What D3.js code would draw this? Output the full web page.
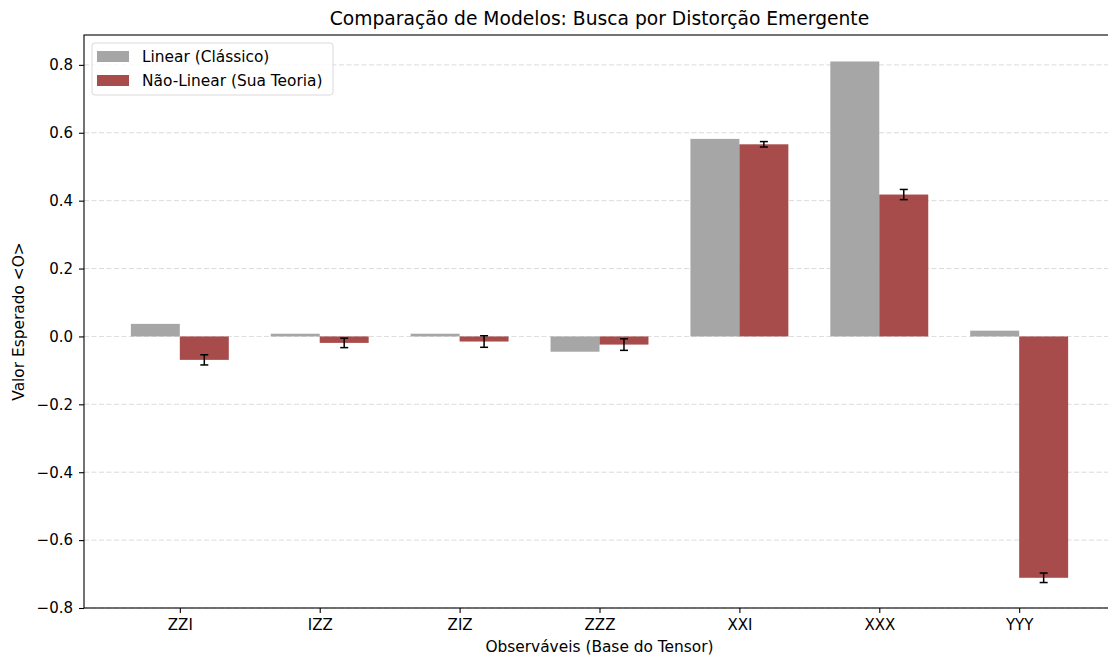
<!DOCTYPE html>
<html>
<head>
<meta charset="utf-8">
<script src="https://cdn.jsdelivr.net/npm/d3@7"></script>
<style>
  body { margin: 0; background: #fff; }
  svg { display: block; font-family: "DejaVu Sans", sans-serif; }
</style>
</head>
<body>
<svg id="chart"></svg>
<script>
const width = 1108;
const height = 657;

// Data
const categories = ["ZZI", "IZZ", "ZIZ", "ZZZ", "XXI", "XXX", "YYY"];
const linearValues = [0.037, 0.008, 0.008, -0.045, 0.582, 0.810, 0.017];
const nonlinearValues = [-0.069, -0.019, -0.015, -0.024, 0.566, 0.418, -0.711];
const nonlinearErrors = [0.015, 0.014, 0.017, 0.017, 0.008, 0.015, 0.014];
const yTicks = [-0.8, -0.6, -0.4, -0.2, 0.0, 0.2, 0.4, 0.6, 0.8];
const seriesNames = ["Linear (Clássico)", "Não-Linear (Sua Teoria)"];

const margin = { left: 84, top: 35, bottom: 49 };
const plotRight = 1115; // right spine falls just outside the picture
const barWidth = 0.35;

const x = d3.scaleLinear()
    .domain([-0.685, categories.length - 1 + 0.685])
    .range([margin.left, plotRight]);

const y = d3.scaleLinear()
    .domain([-0.8, 0.888])
    .range([height - margin.bottom, margin.top]);

const svg = d3.select("#chart").attr("width", width).attr("height", height);

// grid
svg.append("g")
    .selectAll("line")
    .data(yTicks)
    .join("line")
    .attr("x1", margin.left)
    .attr("x2", plotRight)
    .attr("y1", d => y(d))
    .attr("y2", d => y(d))
    .attr("stroke", "#b0b0b0")
    .attr("stroke-opacity", 0.45)
    .attr("stroke-width", 1)
    .attr("stroke-dasharray", "5,2.5");

// bars
const xw = x(barWidth) - x(0);

svg.append("g")
    .selectAll("rect")
    .data(linearValues)
    .join("rect")
    .attr("x", (d, i) => x(i - barWidth))
    .attr("width", xw)
    .attr("y", d => y(Math.max(0, d)))
    .attr("height", d => Math.abs(y(d) - y(0)))
    .attr("fill", "#a6a6a6");

svg.append("g")
    .selectAll("rect")
    .data(nonlinearValues)
    .join("rect")
    .attr("x", (d, i) => x(i))
    .attr("width", xw)
    .attr("y", d => y(Math.max(0, d)))
    .attr("height", d => Math.abs(y(d) - y(0)))
    .attr("fill", "#a84b4b");

// error bars
const err = svg.append("g")
    .selectAll("g")
    .data(nonlinearValues)
    .join("g")
    .attr("stroke", "#000")
    .attr("stroke-width", 1.5);

err.append("line")
    .attr("x1", (d, i) => x(i + barWidth / 2))
    .attr("x2", (d, i) => x(i + barWidth / 2))
    .attr("y1", (d, i) => y(d - nonlinearErrors[i]))
    .attr("y2", (d, i) => y(d + nonlinearErrors[i]));

[-1, 1].forEach(s => {
    err.append("line")
        .attr("x1", (d, i) => x(i + barWidth / 2) - 4)
        .attr("x2", (d, i) => x(i + barWidth / 2) + 4)
        .attr("y1", (d, i) => y(d + s * nonlinearErrors[i]))
        .attr("y2", (d, i) => y(d + s * nonlinearErrors[i]));
});

// axes
const fmt = d => d3.format(".1f")(d).replace("-", "\u2212");

const yAxis = svg.append("g")
    .attr("transform", `translate(${margin.left},0)`)
    .call(d3.axisLeft(y).tickValues(yTicks).tickFormat(fmt).tickSize(5).tickPadding(6));

const xAxis = svg.append("g")
    .attr("transform", `translate(0,${height - margin.bottom})`)
    .call(d3.axisBottom(x).tickValues(d3.range(categories.length))
        .tickFormat(i => categories[i]).tickSize(5).tickPadding(6));

[yAxis, xAxis].forEach(a => {
    a.select(".domain").remove();
    a.selectAll("text").attr("font-size", 15).attr("fill", "#000")
        .attr("font-family", "DejaVu Sans");
    a.selectAll(".tick line").attr("stroke", "#000").attr("stroke-width", 1.1);
});

// spines
svg.append("rect")
    .attr("x", margin.left)
    .attr("y", margin.top)
    .attr("width", plotRight - margin.left)
    .attr("height", height - margin.bottom - margin.top)
    .attr("fill", "none")
    .attr("stroke", "#000")
    .attr("stroke-width", 1.1);

// title and labels
svg.append("text")
    .attr("x", (margin.left + plotRight) / 2)
    .attr("y", 25)
    .attr("text-anchor", "middle")
    .attr("font-size", 18.7)
    .text("Comparação de Modelos: Busca por Distorção Emergente");

svg.append("text")
    .attr("x", (margin.left + plotRight) / 2)
    .attr("y", 652)
    .attr("text-anchor", "middle")
    .attr("font-size", 15.4)
    .text("Observáveis (Base do Tensor)");

svg.append("text")
    .attr("transform", `translate(24,${(margin.top + height - margin.bottom) / 2}) rotate(-90)`)
    .attr("text-anchor", "middle")
    .attr("font-size", 15.4)
    .text("Valor Esperado <O>");

// legend
const legend = svg.append("g").attr("transform", "translate(92,43)");
legend.append("rect")
    .attr("width", 241)
    .attr("height", 52)
    .attr("rx", 3)
    .attr("fill", "#fff")
    .attr("fill-opacity", 0.8)
    .attr("stroke", "#d9d9d9");

const items = legend.selectAll("g.item")
    .data(seriesNames)
    .join("g")
    .attr("class", "item")
    .attr("transform", (d, i) => `translate(5,${8 + i * 24})`);

items.append("rect")
    .attr("width", 32)
    .attr("height", 11)
    .attr("fill", (d, i) => i === 0 ? "#a6a6a6" : "#a84b4b");

items.append("text")
    .attr("x", 45)
    .attr("y", 11)
    .attr("font-size", 15.4)
    .text(d => d);
</script>
</body>
</html>
